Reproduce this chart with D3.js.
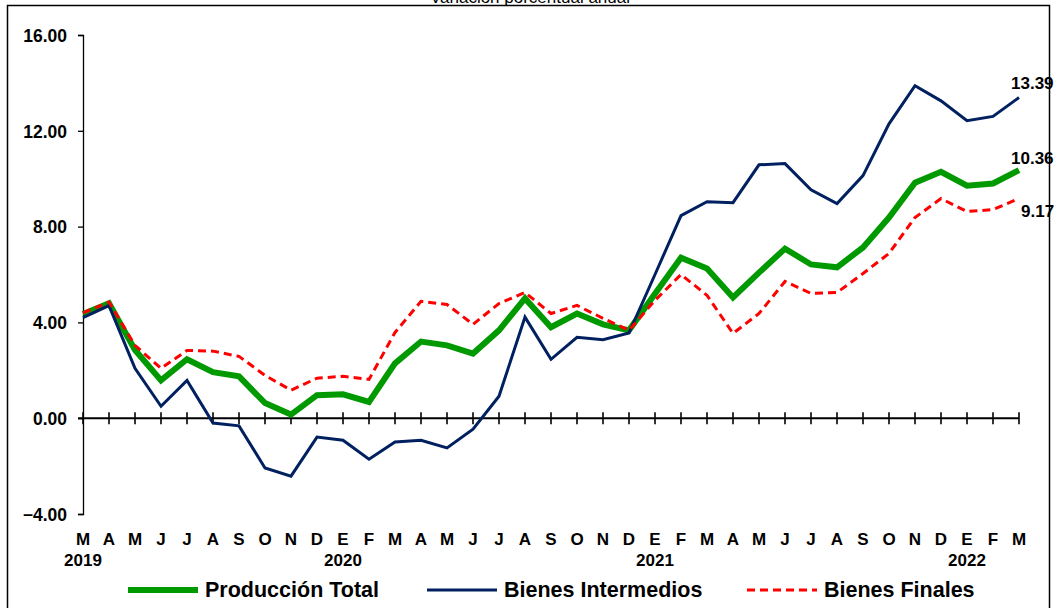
<!DOCTYPE html>
<html>
<head>
<meta charset="utf-8">
<script src="https://cdn.jsdelivr.net/npm/d3@7.9.0/dist/d3.min.js"></script>
<style>
  body { margin: 0; background: #fff; }
  svg { display: block; font-family: "Liberation Sans", Arial, sans-serif; }
</style>
</head>
<body>
<svg id="chart" width="1054" height="608"></svg>
<script>
// months from March 2019 to March 2022
const months = ['M','A','M','J','J','A','S','O','N','D',
  'E','F','M','A','M','J','J','A','S','O','N','D',
  'E','F','M','A','M','J','J','A','S','O','N','D',
  'E','F','M'];
const years = [
  { idx: 0, label: '2019' },
  { idx: 10, label: '2020' },
  { idx: 22, label: '2021' },
  { idx: 34, label: '2022' }
];
const yTicks = [-4, 0, 4, 8, 12, 16];

const produccionTotal = [4.35, 4.8, 2.85, 1.58, 2.46, 1.92, 1.75, 0.63, 0.15, 0.96,
  1.0, 0.68, 2.29, 3.2, 3.04, 2.7, 3.67, 5.0, 3.8, 4.37, 3.92, 3.67,
  5.2, 6.7, 6.25, 5.04, 6.08, 7.08, 6.42, 6.3, 7.13, 8.38, 9.83, 10.29,
  9.71, 9.8, 10.36];
const bienesIntermedios = [4.2, 4.7, 2.08, 0.5, 1.58, -0.2, -0.32, -2.08, -2.42, -0.79,
  -0.92, -1.71, -0.99, -0.92, -1.24, -0.46, 0.92, 4.22, 2.46, 3.38, 3.28, 3.56,
  6.0, 8.46, 9.04, 9.0, 10.58, 10.63, 9.54, 8.96, 10.13, 12.29, 13.88, 13.25,
  12.42, 12.6, 13.39];
const bienesFinales = [4.4, 4.85, 3.04, 2.08, 2.83, 2.8, 2.58, 1.79, 1.17, 1.67,
  1.75, 1.62, 3.58, 4.88, 4.75, 3.92, 4.79, 5.25, 4.37, 4.71, 4.17, 3.67,
  4.92, 6.0, 5.13, 3.54, 4.37, 5.71, 5.21, 5.25, 6.04, 6.88, 8.38, 9.17,
  8.63, 8.71, 9.17];

const seriesNames = ['Producción Total', 'Bienes Intermedios', 'Bienes Finales'];

let svg = d3.select('#chart');

let x = d3.scalePoint()
  .domain(d3.range(months.length))
  .range([83, 1019]);

let y = d3.scaleLinear()
  .domain([-4, 16])
  .range([514, 35]);

// outer frame and title
svg.append('rect')
  .attr('x', 7.5).attr('y', 5.5)
  .attr('width', 1042).attr('height', 640)
  .attr('fill', 'none')
  .attr('stroke', '#000')
  .attr('stroke-width', 1.5);

svg.append('text')
  .attr('x', 530).attr('y', 3)
  .attr('text-anchor', 'middle')
  .attr('font-size', 17)
  .text('Variación porcentual anual');

// y axis
let yAxis = d3.axisLeft(y)
  .tickValues(yTicks)
  .tickSize(5)
  .tickPadding(11)
  .tickFormat(d3.format('.2f'));

let gy = svg.append('g')
  .attr('transform', 'translate(83,0)')
  .call(yAxis);
gy.select('.domain').attr('stroke', '#000').attr('stroke-width', 1.3);
gy.selectAll('.tick line').attr('stroke', '#000').attr('stroke-width', 1.3);
gy.selectAll('.tick text')
  .attr('font-size', 17.5)
  .attr('font-weight', 'bold')
  .attr('fill', '#000')
  .attr('dy', '0.36em');

// horizontal axis on zero, ticks crossing the line
let gx = svg.append('g')
  .attr('transform', `translate(0,${y(0)})`);
gx.append('line')
  .attr('x1', 78).attr('x2', x(months.length - 1))
  .attr('stroke', '#000').attr('stroke-width', 2);
gx.selectAll('line.tick')
  .data(d3.range(months.length))
  .join('line')
  .attr('class', 'tick')
  .attr('x1', (d) => x(d)).attr('x2', (d) => x(d))
  .attr('y1', -6).attr('y2', 6)
  .attr('stroke', '#000').attr('stroke-width', 1.6);

// month letters and years under the plot
svg.selectAll('text.month')
  .data(months)
  .join('text')
  .attr('class', 'month')
  .attr('x', (d, i) => x(i))
  .attr('y', 545)
  .attr('text-anchor', 'middle')
  .attr('font-size', 17)
  .attr('font-weight', 'bold')
  .text((d) => d);

svg.selectAll('text.year')
  .data(years)
  .join('text')
  .attr('class', 'year')
  .attr('x', (d) => x(d.idx))
  .attr('y', 566)
  .attr('text-anchor', 'middle')
  .attr('font-size', 17)
  .attr('font-weight', 'bold')
  .text((d) => d.label);

// lines
let line = d3.line()
  .x((d, i) => x(i))
  .y((d) => y(d));

let styles = [
  { data: produccionTotal, color: '#009900', width: 6, dash: null },
  { data: bienesIntermedios, color: '#002060', width: 3, dash: null },
  { data: bienesFinales, color: '#ff0000', width: 3, dash: '8,5' }
];

styles.forEach((s) => {
  svg.append('path')
    .datum(s.data)
    .attr('d', line)
    .attr('fill', 'none')
    .attr('stroke', s.color)
    .attr('stroke-width', s.width)
    .attr('stroke-linejoin', 'miter')
    .attr('stroke-dasharray', s.dash);
});

// last values
let last = months.length - 1;
let endLabels = [
  { v: bienesIntermedios[last], dx: -8, dy: -14 },
  { v: produccionTotal[last], dx: -8, dy: -12 },
  { v: bienesFinales[last], dx: 2, dy: 12 }
];
endLabels.forEach((l) => {
  svg.append('text')
    .attr('x', x(last) + l.dx)
    .attr('y', y(l.v) + l.dy)
    .attr('dy', '0.35em')
    .attr('font-size', 17)
    .attr('font-weight', 'bold')
    .text(d3.format('.2f')(l.v));
});

// legend
let legendX = [128, 427, 747];
styles.forEach((s, idx) => {
  let g = svg.append('g')
    .attr('transform', `translate(${legendX[idx]},590)`);
  g.append('line')
    .attr('x1', 0).attr('x2', 70)
    .attr('stroke', s.color)
    .attr('stroke-width', s.width)
    .attr('stroke-dasharray', s.dash);
  g.append('text')
    .attr('x', 77)
    .attr('y', 7)
    .attr('font-size', 21.5)
    .attr('font-weight', 'bold')
    .text(seriesNames[idx]);
});
</script>
</body>
</html>
